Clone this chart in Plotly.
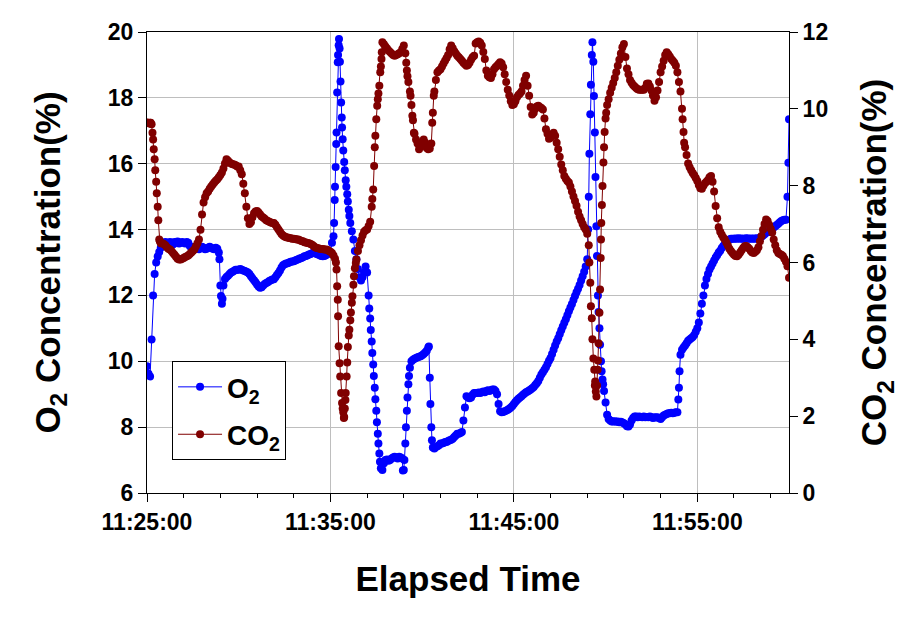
import pandas as pd
import plotly.graph_objects as go

# ---------------- data ----------------
START = "2024-01-01 11:25:00"
END = "2024-01-01 12:00:00"
x_tick_labels = ["11:25:00", "11:35:00", "11:45:00", "11:55:00"]

# O2 (%) sampled every 5 s from 11:25:00 (one row = one minute)
o2_grid = [
    9.85, 9.62, 9.54, 10.66, 12.0, 12.65, 13.0, 13.18, 13.32, 13.45, 13.56, 13.6,
    13.62, 13.6, 13.58, 13.62, 13.6, 13.55, 13.62, 13.6, 13.64, 13.58, 13.6, 13.62,
    13.6, 13.58, 13.62, 13.6, 13.5, 13.45, 13.42, 13.45, 13.48, 13.45, 13.4, 13.45,
    13.48, 13.45, 13.4, 13.42, 13.45, 13.48, 13.45, 13.42, 13.4, 13.45, 13.42, 13.3,
    12.3, 11.75, 12.3, 12.5, 12.56, 12.6, 12.65, 12.7, 12.72, 12.75, 12.78, 12.78,
    12.78, 12.8, 12.78, 12.76, 12.74, 12.72, 12.7, 12.65, 12.58, 12.52, 12.46, 12.4,
    12.33, 12.27, 12.23, 12.25, 12.3, 12.35, 12.38, 12.4, 12.44, 12.46, 12.48, 12.49,
    12.55, 12.62, 12.68, 12.76, 12.85, 12.92, 12.95, 12.97, 12.98, 13.0, 13.02, 13.03,
    13.04, 13.06, 13.08, 13.1, 13.12, 13.14, 13.16, 13.19, 13.2, 13.22, 13.24, 13.26,
    13.28, 13.3, 13.28, 13.26, 13.24, 13.22, 13.2, 13.19, 13.2, 13.22, 13.25, 13.28,
    13.3, 13.6, 13.8, 15.3, 16.95, 19.3, 19.5, 17.86, 16.74, 16.05, 15.5, 15.07,
    14.6, 14.2, 13.95, 13.7, 13.35, 13.1, 12.8, 12.55, 12.45, 12.55, 12.7, 12.88,
    12.7, 12.0, 11.3, 10.6, 9.9, 9.2, 8.5, 7.8, 7.2, 6.75, 6.7, 6.9,
    7.0, 7.02, 6.98, 7.0, 7.05, 7.08, 7.1, 7.08, 7.05, 7.1, 7.08, 7.05,
    6.7, 7.5, 8.5, 9.3, 9.8, 10.0, 10.05, 10.08, 10.1, 10.12, 10.14, 10.15,
    10.18, 10.22, 10.27, 10.32, 10.42, 9.5, 8.0, 7.38, 7.35, 7.4, 7.42, 7.45,
    7.5, 7.5, 7.52, 7.55, 7.55, 7.58, 7.6, 7.62, 7.65, 7.7, 7.75, 7.8,
    7.8, 7.82, 7.85, 8.2, 8.6, 8.94, 8.9, 8.88, 8.9, 8.98, 9.04, 9.04,
    9.04, 9.05, 9.04, 9.06, 9.08, 9.06, 9.1, 9.12, 9.1, 9.12, 9.14, 9.14,
    9.1, 9.0, 8.7, 8.48, 8.45, 8.46, 8.48, 8.5, 8.53, 8.56, 8.6, 8.64,
    8.7, 8.76, 8.82, 8.86, 8.9, 8.94, 8.98, 9.02, 9.06, 9.08, 9.11, 9.14,
    9.18, 9.22, 9.28, 9.33, 9.4, 9.5, 9.6, 9.67, 9.74, 9.82, 9.92, 10.02,
    10.1, 10.22, 10.35, 10.48, 10.6, 10.7, 10.82, 10.94, 11.06, 11.17, 11.28, 11.4,
    11.52, 11.63, 11.74, 11.86, 11.98, 12.1, 12.2, 12.32, 12.45, 12.58, 12.72, 12.88,
    13.1, 15.0, 17.5, 19.3, 19.1, 16.95, 14.1, 12.0, 11.0, 10.0, 9.45, 9.1,
    8.75, 8.38, 8.25, 8.2, 8.17, 8.17, 8.18, 8.16, 8.17, 8.15, 8.16, 8.14,
    8.12, 8.08, 8.03, 8.02, 8.08, 8.2, 8.28, 8.32, 8.32, 8.3, 8.32, 8.31,
    8.3, 8.32, 8.3, 8.31, 8.3, 8.32, 8.3, 8.28, 8.3, 8.29, 8.3, 8.28,
    8.25, 8.3, 8.35, 8.38, 8.4, 8.42, 8.42, 8.44, 8.42, 8.44, 8.45, 8.45,
    9.2, 10.2, 10.35, 10.42, 10.48, 10.55, 10.62, 10.66, 10.7, 10.74, 10.8, 10.9,
    11.0, 11.18, 11.45, 11.75, 12.0, 12.3, 12.5, 12.65, 12.79, 12.88, 12.97, 13.06,
    13.15, 13.22, 13.3, 13.36, 13.44, 13.5, 13.56, 13.62, 13.66, 13.7, 13.72, 13.72,
    13.72, 13.73, 13.72, 13.74, 13.72, 13.73, 13.72, 13.72, 13.74, 13.73, 13.72, 13.73,
    13.72, 13.73, 13.72, 13.74, 13.72, 13.75, 13.78, 13.82, 13.86, 13.9, 13.92, 13.94,
    13.98, 14.02, 14.06, 14.1, 14.14, 14.18, 14.22, 14.26, 14.28, 14.3, 14.3, 15.0,
    17.35,
]

# extra O2 samples inside the fast transients (seconds after 11:25:00)
o2_extra_sec = [237, 242, 247, 612, 614, 617, 619, 622, 624, 627, 628, 631, 633, 637, 638,
                642, 647, 652, 657, 662, 727, 732, 737, 742, 747, 752, 757, 762, 837, 842,
                847, 852, 857, 922, 927, 932, 1443, 1447, 1452, 1457, 1462, 1467, 1472,
                1477, 1482, 1487, 1492, 1738, 1742, 2098]
o2_extra_val = [13.1, 11.98, 11.9, 14.2, 14.9, 15.9, 16.6, 18.16, 19.08, 19.6, 19.79, 19.1,
                18.5, 17.4, 17.1, 16.4, 15.8, 15.3, 14.85, 14.41, 11.6, 10.95, 10.25, 9.55,
                8.85, 8.15, 7.5, 6.95, 6.68, 7.0, 8.0, 8.9, 9.55, 10.45, 8.7, 7.6, 14.0,
                16.3, 18.4, 19.69, 18.06, 15.6, 13.2, 11.5, 10.5, 9.7, 9.3, 8.84, 9.7, 16.03]

# CO2 (%) sampled every 5 s from 11:25:00 (one row = one minute)
co2_grid = [
    9.64, 9.64, 9.64, 9.6, 9.2, 8.69, 8.1, 7.45, 6.6, 6.5, 6.5, 6.48,
    6.45, 6.4, 6.36, 6.34, 6.3, 6.25, 6.2, 6.15, 6.1, 6.08, 6.08, 6.1,
    6.12, 6.14, 6.16, 6.18, 6.22, 6.26, 6.3, 6.34, 6.42, 6.5, 6.6, 6.85,
    7.25, 7.56, 7.7, 7.8, 7.85, 7.92, 7.98, 8.03, 8.08, 8.13, 8.17, 8.22,
    8.28, 8.34, 8.45, 8.58, 8.69, 8.65, 8.6, 8.58, 8.56, 8.55, 8.53, 8.5,
    8.5, 8.4, 8.3, 8.05, 7.8, 7.45, 7.15, 7.0, 7.05, 7.18, 7.28, 7.33,
    7.34, 7.3, 7.25, 7.2, 7.17, 7.14, 7.1, 7.08, 7.06, 7.04, 7.03, 7.03,
    6.98, 6.92, 6.86, 6.8, 6.74, 6.7, 6.68, 6.66, 6.65, 6.64, 6.63, 6.62,
    6.62, 6.61, 6.6, 6.6, 6.58, 6.56, 6.55, 6.53, 6.52, 6.51, 6.5, 6.48,
    6.46, 6.43, 6.4, 6.38, 6.37, 6.36, 6.35, 6.35, 6.34, 6.34, 6.33, 6.3,
    6.28, 6.25, 6.18, 6.1, 5.82, 4.6, 3.38, 2.6, 2.2, 1.98, 2.6, 3.4,
    4.1, 4.5, 4.95, 5.42, 5.85, 6.08, 6.3, 6.45, 6.58, 6.7, 6.8, 6.84,
    6.86, 6.95, 7.06, 7.45, 7.9, 9.0, 9.73, 10.25, 10.6, 11.1, 11.73, 11.68,
    11.62, 11.57, 11.52, 11.48, 11.44, 11.4, 11.38, 11.4, 11.42, 11.45, 11.47, 11.56,
    11.65, 11.45, 11.0, 10.7, 10.45, 10.1, 9.7, 9.35, 9.2, 9.1, 8.95, 9.05,
    9.12, 9.2, 9.12, 8.98, 8.95, 8.97, 9.1, 9.9, 10.45, 10.75, 10.95, 11.0,
    11.03, 11.1, 11.18, 11.25, 11.32, 11.4, 11.55, 11.65, 11.58, 11.5, 11.44, 11.38,
    11.34, 11.3, 11.25, 11.2, 11.16, 11.12, 11.14, 11.2, 11.28, 11.34, 11.38, 11.7,
    11.73, 11.75, 11.72, 11.65, 11.48, 11.3, 11.0, 10.86, 10.82, 10.8, 10.9, 11.03,
    11.08, 11.12, 11.17, 11.21, 11.18, 11.08, 10.9, 10.7, 10.5, 10.35, 10.2, 10.1,
    10.12, 10.2, 10.3, 10.36, 10.4, 10.45, 10.6, 10.75, 10.86, 10.6, 10.34, 10.05,
    9.85, 9.9, 10.0, 10.06, 10.08, 10.05, 10.02, 9.98, 9.75, 9.47, 9.35, 9.22,
    9.25, 9.32, 9.38, 9.3, 9.12, 8.95, 8.75, 8.55, 8.4, 8.25, 8.18, 8.12,
    8.08, 7.98, 7.85, 7.72, 7.6, 7.48, 7.32, 7.2, 7.1, 7.0, 6.92, 6.86,
    6.75, 6.45, 5.47, 4.55, 3.5, 2.8, 2.51, 3.45, 4.69, 6.6, 7.99, 9.0,
    9.75, 10.1, 10.25, 10.42, 10.55, 10.67, 10.8, 10.95, 11.12, 11.28, 11.44, 11.6,
    11.69, 11.35, 11.05, 10.9, 10.75, 10.68, 10.62, 10.58, 10.54, 10.51, 10.5, 10.5,
    10.5, 10.5, 10.55, 10.65, 10.66, 10.58, 10.48, 10.35, 10.21, 10.3, 10.48, 10.7,
    10.95, 11.1, 11.25, 11.4, 11.47, 11.42, 11.36, 11.3, 11.25, 11.2, 11.12, 10.95,
    10.7, 10.45, 10.0, 9.4, 9.0, 8.8, 8.58, 8.48, 8.4, 8.33, 8.27, 8.2,
    8.12, 8.02, 7.93, 7.92, 8.0, 8.06, 8.1, 8.15, 8.22, 8.25, 8.1, 7.85,
    7.47, 7.15, 6.92, 6.8, 6.72, 6.65, 6.6, 6.52, 6.44, 6.36, 6.3, 6.25,
    6.2, 6.17, 6.16, 6.2, 6.26, 6.32, 6.38, 6.42, 6.43, 6.4, 6.36, 6.3,
    6.26, 6.25, 6.28, 6.32, 6.4, 6.55, 6.69, 6.85, 7.0, 7.12, 7.08, 6.98,
    6.88, 6.78, 6.6, 6.45, 6.32, 6.25, 6.22, 6.2, 6.17, 6.1, 6.02, 5.9,
    5.6,
]

co2_extra_sec = [2, 7, 12, 18, 22, 27, 32, 37, 42, 618, 622, 624, 627, 632, 638, 642, 644,
                 647, 649, 653, 657, 662, 667, 672, 677, 683, 737, 743, 747, 753, 757, 763,
                 767, 768, 848, 852, 862, 868, 873, 933, 938, 1447, 1452, 1457, 1463, 1466,
                 1468, 1472, 1474, 1477, 1482, 1484, 1486, 1488, 1493, 1497, 1502, 1752, 1757]
co2_extra_val = [9.64, 9.62, 9.64, 9.38, 8.95, 8.4, 7.8, 7.1, 6.55, 6.0, 5.38, 5.03, 3.82,
                 3.03, 2.34, 2.1, 1.95, 2.2, 2.42, 3.03, 3.8, 4.25, 4.7, 5.12, 5.64, 5.99,
                 7.65, 8.51, 9.3, 10.08, 10.4, 10.95, 11.3, 11.47, 11.2, 10.85, 10.34, 9.82,
                 9.38, 9.64, 10.34, 6.0, 4.86, 4.0, 3.21, 2.9, 2.64, 2.8, 3.21, 3.9, 5.3,
                 6.12, 7.03, 7.5, 8.6, 9.4, 9.9, 9.73, 9.12]

# ---------------- build ----------------
grid_sec = list(range(0, 2101, 5))
assert len(o2_grid) == len(grid_sec), len(o2_grid)
assert len(co2_grid) == len(grid_sec), len(co2_grid)
assert len(o2_extra_sec) == len(o2_extra_val)
assert len(co2_extra_sec) == len(co2_extra_val)

t0 = pd.Timestamp(START)


def series(gv, es, ev):
    pts = sorted(zip(grid_sec + es, gv + ev))
    ts = [t0 + pd.Timedelta(seconds=s) for s, _ in pts]
    return ts, [v for _, v in pts]


o2_t, o2_v = series(o2_grid, o2_extra_sec, o2_extra_val)
co2_t, co2_v = series(co2_grid, co2_extra_sec, co2_extra_val)

FONT = "Liberation Sans, Arial, sans-serif"
BLUE = "#0000FF"
MAROON = "#800000"
GRID = "#BEBEBE"

fig = go.Figure()
fig.add_trace(go.Scatter(
    x=o2_t, y=o2_v, name="O<sub>2</sub>", mode="lines+markers", legendgroup="a",
    line=dict(color=BLUE, width=1), marker=dict(color=BLUE, size=8),
))
fig.add_trace(go.Scatter(
    x=co2_t, y=co2_v, name="CO<sub>2</sub>", mode="lines+markers", yaxis="y2",
    legendgroup="b",
    line=dict(color=MAROON, width=1), marker=dict(color=MAROON, size=8),
))

tick_font = dict(family=FONT, size=23, color="black", weight="bold")
title_font = dict(family=FONT, size=35, color="black", weight="bold")

fig.update_layout(
    width=916, height=618,
    margin=dict(l=147, r=127, t=32, b=125),
    paper_bgcolor="white", plot_bgcolor="white",
    showlegend=True,
    legend=dict(
        x=0.039, y=0.286, xanchor="left", yanchor="top",
        bgcolor="white", bordercolor="black", borderwidth=1,
        font=dict(family=FONT, size=28, color="black", weight="bold"),
        tracegroupgap=8, itemwidth=44,
    ),
    xaxis=dict(
        type="date",
        range=[START, END],
        tickvals=[pd.Timestamp("2024-01-01 " + s) for s in x_tick_labels],
        ticktext=x_tick_labels,
        ticks="outside", ticklen=8, tickwidth=1, tickcolor="black",
        showline=True, linecolor="black", linewidth=1, mirror=True,
        showgrid=True, gridcolor=GRID, gridwidth=1,
        minor=dict(dtick=120000, tick0=START, ticks="outside", ticklen=4,
                   tickcolor="black", showgrid=False),
        tickfont=tick_font,
        title=dict(text="Elapsed Time", font=title_font, standoff=32),
        zeroline=False,
    ),
    yaxis=dict(
        range=[6, 20], dtick=2, tick0=0,
        ticks="outside", ticklen=8, tickwidth=1, tickcolor="black",
        showline=True, linecolor="black", linewidth=1,
        showgrid=True, gridcolor=GRID, gridwidth=1,
        tickfont=tick_font,
        title=dict(text="O<sub>2</sub> Concentration(%)", font=title_font, standoff=36),
        zeroline=False,
    ),
    yaxis2=dict(
        range=[0, 12], dtick=2, tick0=0, overlaying="y", side="right",
        ticks="outside", ticklen=8, tickwidth=1, tickcolor="black",
        showline=True, linecolor="black", linewidth=1,
        showgrid=False, tickfont=tick_font,
        title=dict(text="CO<sub>2</sub> Concentration(%)", font=title_font, standoff=34),
        zeroline=False,
    ),
)

fig.write_html("out.html")
